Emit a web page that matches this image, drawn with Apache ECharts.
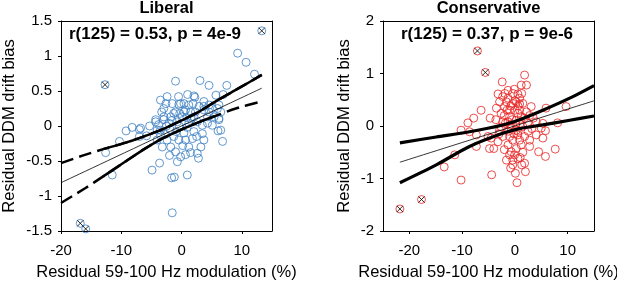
<!DOCTYPE html>
<html>
<head>
<meta charset="utf-8">
<script src="https://cdn.jsdelivr.net/npm/echarts@6/dist/echarts.min.js"></script>
<style>html,body{margin:0;padding:0;background:#fff}#c{width:617px;height:283px}</style>
</head>
<body>
<div id="c"></div>
<script>
// ---------- DATA ----------
var panelTitles = ['Liberal', 'Conservative'];
var statTexts = ['r(125) = 0.53, p = 4e-9', 'r(125) = 0.37, p = 9e-6'];
var xTicks = [-20, -10, 0, 10];
var xName = 'Residual 59-100 Hz modulation (%)';
var yName = 'Residual DDM drift bias';

var libPoints = [
[9.3,1.04],[10.7,0.91],[12.1,0.74],[-1.0,0.64],[3.05,0.65],[4.55,0.58],[7.5,0.58],[6.9,0.45],[5.7,0.44],[2.05,0.43],[2.2,0.41],
[-3.5,0.37],[-2.4,0.42],[-0.45,0.31],[-1.55,0.32],[0.4,0.32],[3.7,0.35],[4.55,0.3],[5.95,0.25],[6.5,0.2],[6.2,0.09],
[6.5,-0.06],[6.05,-0.07],[6.8,-0.22],[3.45,-0.11],[3.7,-0.2],[3.2,-0.3],[2.6,-0.39],[2.8,-0.46],[0.95,-0.7],[-1.65,-0.74],
[-1.2,-0.73],[-1.55,-1.24],[-3.65,-0.53],[-4.9,-0.63],[-11.5,-0.7],[-12.6,-0.38],[-10.3,-0.22],[-9.2,-0.07],[-8.2,-0.02],[-7.0,-0.05],
[-7.0,-0.15],[-5.8,-0.14],[-5.3,0],[-4.3,0.06],[-4.05,-0.06],[-3.5,-0.13],[-3.3,0.2],[-2.95,0.09],[-2.5,0],[-1.8,0.13],
[-1.0,0.2],[-0.7,0.06],[0.1,0.13],[0.65,0.23],[1.5,0.2],[2.05,0.13],[1.2,0.04],[2.6,0.06],[3.45,0.01],[4.3,0.04],
[5.1,0.01],[5.4,0.13],[4.55,0.2],[3.7,0.23],[2.9,0.28],[-1.3,-0.15],[-0.45,-0.2],[-2.4,-0.2],[-1.8,-0.3],[-1.0,-0.37],
[-0.15,-0.44],[-0.7,-0.51],[0.65,-0.41],[1.2,-0.3],[0.65,-0.2],[1.8,-0.18],[2.05,-0.08],[0.4,-0.1],[-3.2,-0.3],[-4.05,-0.2],
[-0.15,0.32],[-2.95,0.25],[-2.95,0.13],[-4.3,0.09],[-6.8,-0.03],[-1.3,0.18],[0.4,0.2],[1.2,0.3],[3.7,0.28],[5.1,0.25],
[6.2,0.3],[2.3,0.2],[4.3,0.13],[6.2,0.11],[-2.1,0.04],[-3.5,-0.06],
[-0.4,0.0],[0.9,-0.02],[1.6,0.1],[-1.9,-0.05],[-2.7,-0.12],[-0.9,-0.08],[0.2,-0.28],[1.5,-0.38],[-2.0,-0.42],[-0.3,0.18],
[0.9,0.12],[2.5,-0.15],[-1.6,0.08],[-3.8,0.02],[-0.5,0.42],[1.0,0.45],[-2.6,0.32],[1.9,0.32]
];
var libOutliers = [[-12.7,0.59],[-16.8,-1.39],[-15.9,-1.47],[13.3,1.36]];
var libFit = [[-20,-0.81],[13.3,0.54]];
var libUpper = [[-20,-0.53],[-16.3,-0.42],[-13,-0.33],[-9,-0.23],[-6,-0.14],[-3,-0.04],[0,0.08],[3,0.21],[6,0.37],[9.5,0.54],[13.3,0.73]];
var libLower = [[-20,-1.10],[-16,-0.89],[-13,-0.72],[-9,-0.49],[-6,-0.32],[-3,-0.17],[0,-0.05],[3,0.06],[5.5,0.14],[9,0.25],[13.3,0.35]];

var conPoints = [
[1.84,0.97],[1.2,0.78],[2.2,0.78],[-2.4,0.84],[-3.2,0.61],[-0.4,0.62],[0.57,0.61],[-1.3,0.53],[-2.9,0.46],[-6.4,0.30],
[-3.5,0.34],[-1.95,0.37],[0.27,0.46],[1.5,0.43],[3.1,0.37],[-1.0,0.30],[0.9,0.30],[9.7,0.37],[5.9,0.34],[-4.7,0.15],
[-7.8,0.15],[-8.9,0.06],[-10.2,-0.08],[-8.6,-0.11],[-7.3,-0.17],[-7.3,-0.39],[-4.8,-0.43],[-4.0,-0.43],[-5.1,-0.2],[-2.9,-0.08],
[-1.3,0.08],[0.27,0.11],[1.84,0.15],[-1.3,-0.36],[-0.7,-0.49],[-0.05,-0.55],[0.27,-0.43],[-0.4,-0.65],[1.84,-0.71],[1.3,-0.74],
[2.0,-0.87],[0.4,-1.08],[-4.4,-0.93],[-10.2,-1.03],[-13.4,-0.78],[-11.4,-0.55],[5.8,-0.58],[4.5,-0.49],[7.65,-0.44],[5.3,-0.23],
[5.8,-0.09],[5.0,-0.04],[4.05,-0.17],[2.8,-0.27],[1.84,-0.2],[0.9,-0.27],[2.8,-0.39],[8.1,0.06],[5.3,0.05],[4.05,0.08],
[-2.3,-0.2],[-1.0,-0.2],[-3.2,-0.3],[-4.5,-0.23],[-2.3,0.08],[-2.6,0.24],[-1.0,0.18],[0.57,0.24],[2.2,0.27],[-0.4,0.43],
[-1.6,0.46],[-2.3,0.56],[0.9,0.53],[1.5,-0.01],[0.27,-0.08],[-0.7,-0.04],[0.57,-0.17],[-0.4,-0.27],[1.2,-0.36],[-1.6,-0.65],
[0.57,-0.62],[-0.4,-0.74],
[-2.0,0.2],[-1.5,0.3],[-0.8,0.38],[0,0.3],[0.6,0.38],[1.2,0.18],[-0.5,0.12],[-1.8,0.05],[0.2,0.02],[1.0,0.05],
[-1.2,-0.1],[0.6,-0.1],[2.4,0.05],[-2.6,-0.02],[-0.2,-0.15],[1.5,-0.5],[-1.0,-0.55],[0.1,-0.9],[-0.8,-0.8],[1.0,-0.6],
[2.8,0.2],[3.5,0.15],[-3.6,0.12],[-1.9,0.62],[0.0,0.48],[-0.9,0.02],[2.5,-0.1],[-2.0,-0.45],[3.2,-0.05],[-0.1,0.7],
[1.3,0.62],[-3.0,-0.15],[0.9,0.42],[-1.3,0.68]
];
var conOutliers = [[-7.1,1.43],[-5.6,1.02],[-21.8,-1.58],[-17.7,-1.40]];
var conFit = [[-21.8,-0.69],[15,0.48]];
var conUpper = [[-21.8,-0.32],[-14.9,-0.21],[-8.6,-0.11],[-2.3,0.02],[0.9,0.12],[5.3,0.30],[10.4,0.53],[15,0.77]];
var conLower = [[-21.8,-1.08],[-14.9,-0.74],[-8.6,-0.39],[-2.3,-0.14],[0.9,-0.05],[5.3,0.02],[10.4,0.11],[15,0.19]];

// ---------- CHART ----------
var FONT = 'Liberation Sans, Arial, Helvetica, sans-serif';
var chart = echarts.init(document.getElementById('c'), null, {renderer: 'canvas'});

function xAx(grid, min, pos) {
  var bottom = pos === 'bottom';
  return {
    type: 'value', gridIndex: grid, position: pos, min: min, max: 15,
    name: bottom ? xName : '', nameLocation: 'middle', nameGap: 33,
    nameTextStyle: {fontFamily: FONT, fontSize: 16.5, color: '#000'},
    axisLine: {show: true, onZero: false, lineStyle: {color: '#000', width: 1}},
    axisTick: {show: bottom, inside: false, length: 3, customValues: xTicks, lineStyle: {color: '#000'}},
    axisLabel: {show: bottom, customValues: xTicks, fontFamily: FONT, fontSize: 15, color: '#000', margin: 12},
    splitLine: {show: false}
  };
}
function yAx(grid, min, max, interval, pos, gap) {
  var left = pos === 'left';
  return {
    type: 'value', gridIndex: grid, position: pos, min: min, max: max, interval: interval,
    name: left ? yName : '', nameLocation: 'middle', nameGap: gap,
    nameTextStyle: {fontFamily: FONT, fontSize: 16.5, color: '#000'},
    axisLine: {show: true, onZero: false, lineStyle: {color: '#000', width: 1}},
    axisTick: {show: left, inside: false, length: 3, lineStyle: {color: '#000'}},
    axisLabel: {show: left, fontFamily: FONT, fontSize: 15, color: '#000', margin: 9},
    splitLine: {show: false}
  };
}

var xSym = 'path://M0,0L10,10M10,0L0,10';
function scatter(idx, data, color) {
  return {type: 'scatter', xAxisIndex: idx, yAxisIndex: idx, data: data, symbol: 'circle', symbolSize: 8,
    itemStyle: {color: 'rgba(0,0,0,0)', borderColor: color, borderWidth: 1}, z: 2};
}
function xmarks(idx, data) {
  return {type: 'scatter', xAxisIndex: idx, yAxisIndex: idx, data: data, symbol: xSym, symbolSize: 6,
    itemStyle: {color: 'none', borderColor: '#000', borderWidth: 1}, z: 5};
}
function line(idx, data, width, type) {
  return {type: 'line', xAxisIndex: idx, yAxisIndex: idx, data: data, showSymbol: false, smooth: 0.3,
    lineStyle: {color: '#000', width: width, type: type || 'solid'}, z: 4, silent: true};
}
function between(arr, a, b) { return arr.filter(function (p) { return p[0] >= a && p[0] <= b; }); }

var blue = '#3d80c2', red = '#e82222';

chart.setOption({
  animation: false,
  backgroundColor: '#fff',
  grid: [
    {left: 61, top: 21, width: 211, height: 210, outerBoundsMode: 'none', containLabel: false},
    {left: 383, top: 21, width: 211, height: 210, outerBoundsMode: 'none', containLabel: false}
  ],
  xAxis: [xAx(0, -20, 'bottom'), xAx(1, -25, 'bottom'), xAx(0, -20, 'top'), xAx(1, -25, 'top')],
  yAxis: [yAx(0, -1.5, 1.5, 0.5, 'left', 43), yAx(1, -2, 2, 1, 'left', 30),
          yAx(0, -1.5, 1.5, 0.5, 'right', 10), yAx(1, -2, 2, 1, 'right', 10)],
  graphic: [
    {type: 'text', x: 166.5, y: 8, style: {text: panelTitles[0], font: 'bold 16.5px ' + FONT, fill: '#000', align: 'center', verticalAlign: 'middle'}},
    {type: 'text', x: 488.5, y: 8, style: {text: panelTitles[1], font: 'bold 16.5px ' + FONT, fill: '#000', align: 'center', verticalAlign: 'middle'}},
    {type: 'text', x: 69, y: 34, style: {text: statTexts[0], font: 'bold 17px ' + FONT, fill: '#000', align: 'left', verticalAlign: 'middle'}},
    {type: 'text', x: 401, y: 34, style: {text: statTexts[1], font: 'bold 17px ' + FONT, fill: '#000', align: 'left', verticalAlign: 'middle'}}
  ],
  series: [
    scatter(0, libPoints.concat(libOutliers), blue),
    scatter(1, conPoints.concat(conOutliers), red),
    line(0, libFit, 0.8),
    line(0, libUpper, 2.5, [13, 6]),
    line(0, libLower, 2.5, [13, 6]),
    line(0, between(libUpper, -13, 13.3), 2.5),
    line(0, between(libLower, -13, 5.5), 2.5),
    line(1, conFit, 0.8),
    line(1, conUpper, 3.2),
    line(1, conLower, 3.2),
    xmarks(0, libOutliers),
    xmarks(1, conOutliers)
  ]
});
</script>
</body>
</html>
